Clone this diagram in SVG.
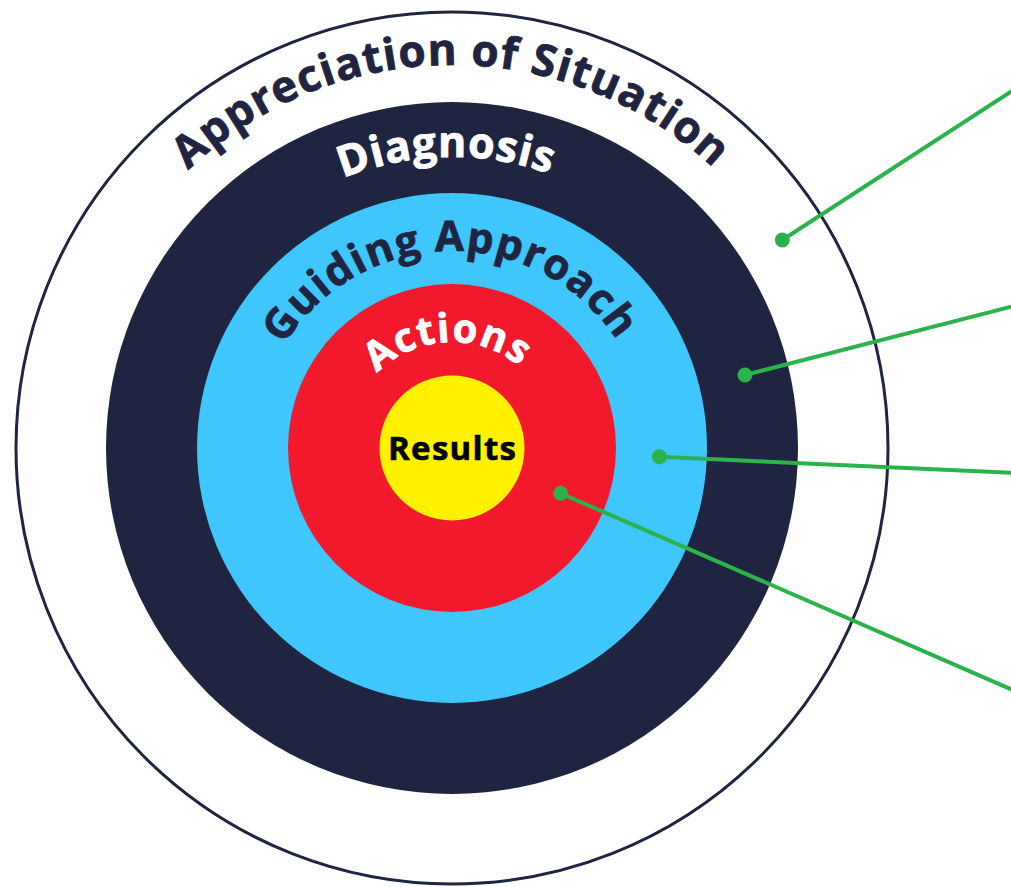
<svg xmlns="http://www.w3.org/2000/svg" width="1011" height="887" viewBox="0 0 1011 887">
  <style>
    .ring-label { font-family: "Open Sans", "Noto Sans", "Liberation Sans", sans-serif; font-weight: 700; stroke-width: 0.8; }
    .navy { fill: #1f2540; stroke: #1f2540; }
    .light { fill: #ffffff; stroke: #ffffff; }
    .connector { stroke: #2bb34b; stroke-width: 4; fill: none; stroke-linecap: round; }
    .dot { fill: #2bb34b; }
  </style>
  <defs>
    <path id="arc-appreciation" d="M 188.36 170.18 A 383 383 0 0 1 715.64 170.18"/>
    <path id="arc-diagnosis" d="M 342.99 178.19 A 291 291 0 0 1 551.53 174.55"/>
    <path id="arc-guiding" d="M 284.03 345.07 A 197 197 0 0 1 618.15 342.15"/>
    <path id="arc-actions" d="M 377.05 373.05 A 106 106 0 0 1 520.84 367.40"/>
  </defs>
  <rect width="1011" height="887" fill="#ffffff"/>

  <g id="appreciation-of-situation">
    <circle cx="452" cy="448" r="436" fill="#ffffff" stroke="#1f2540" stroke-width="3"/>
    <text class="ring-label navy" font-size="44"><textPath href="#arc-appreciation" textLength="578" lengthAdjust="spacing">Appreciation of Situation</textPath></text>
  </g>

  <g id="diagnosis">
    <circle cx="452" cy="448" r="346" fill="#1f2540"/>
    <text class="ring-label light" font-size="43"><textPath href="#arc-diagnosis" textLength="211" lengthAdjust="spacing">Diagnosis</textPath></text>
  </g>

  <g id="guiding-approach">
    <circle cx="452" cy="448" r="255" fill="#3fc6fc"/>
    <text class="ring-label navy" font-size="42"><textPath href="#arc-guiding" textLength="396" lengthAdjust="spacing">Guiding Approach</textPath></text>
  </g>

  <g id="actions">
    <circle cx="452" cy="448" r="164" fill="#f2192c"/>
    <text class="ring-label light" font-size="40"><textPath href="#arc-actions" textLength="156" lengthAdjust="spacing">Actions</textPath></text>
  </g>

  <g id="results">
    <circle cx="452" cy="448" r="72.5" fill="#fff200"/>
    <text x="452" y="460" text-anchor="middle" font-family="'Open Sans', 'Noto Sans', 'Liberation Sans', sans-serif" font-weight="700" font-size="33" fill="#000000" stroke="#000000" stroke-width="0.6" textLength="128" lengthAdjust="spacing">Results</text>
  </g>

  <g id="connectors">
    <line class="connector" x1="782.3" y1="240" x2="1015" y2="89"/>
    <circle class="dot" cx="782.3" cy="240" r="7.5"/>
    <line class="connector" x1="745" y1="375" x2="1015" y2="305.7"/>
    <circle class="dot" cx="745" cy="375" r="7.5"/>
    <line class="connector" x1="659.3" y1="456.7" x2="1015" y2="472.9"/>
    <circle class="dot" cx="659.3" cy="456.7" r="7.5"/>
    <line class="connector" x1="560.7" y1="493.3" x2="1015" y2="691"/>
    <circle class="dot" cx="560.7" cy="493.3" r="7.5"/>
  </g>
</svg>
